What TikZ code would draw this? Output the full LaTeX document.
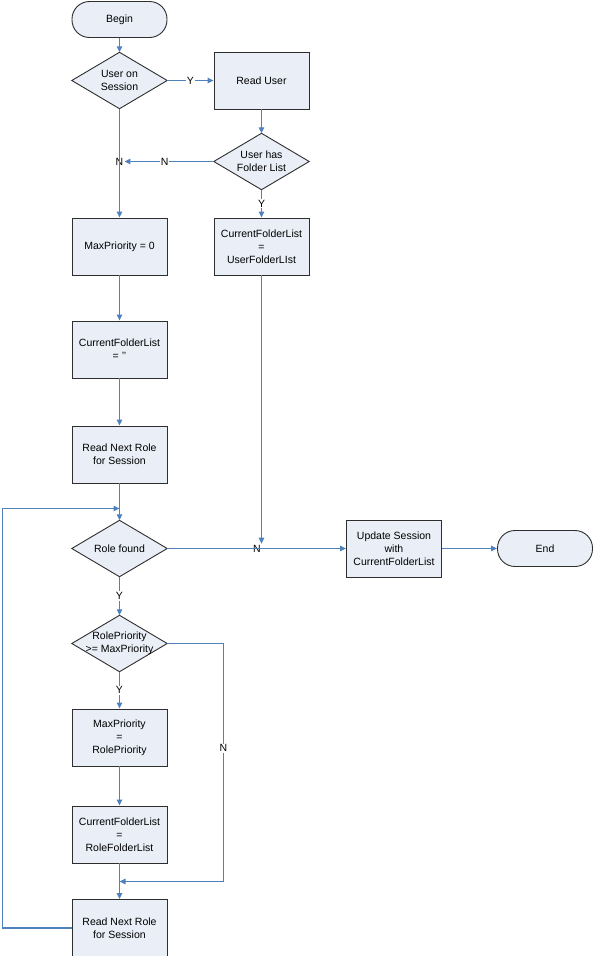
\documentclass[tikz,border=0pt]{standalone}
\usepackage{fontspec}
\setmainfont{Liberation Sans}
\usetikzlibrary{arrows.meta,backgrounds}
\definecolor{boxfill}{HTML}{E9EEF7}
\definecolor{flow}{HTML}{4F81BD}
\definecolor{edgecol}{HTML}{2E2E2E}
\begin{document}
\begin{tikzpicture}[x=1pt,y=-1pt,
  font=\fontsize{10.5}{13}\selectfont,
  proc/.style={draw=edgecol, fill=boxfill, line width=0.9pt, minimum width=95pt, minimum height=57pt, align=center, inner sep=1pt},
  term/.style={proc, rounded corners=17.5pt, minimum height=36pt},
  dec/.style={minimum width=95pt, minimum height=56pt, align=center, inner sep=0pt},
  flowline/.style={draw=flow, line width=1.1pt},
  arr/.style={flowline, -{Triangle[length=6pt,width=5.5pt]}},
  lab/.style={fill=white, inner sep=1pt},
  jn/.style={inner sep=1pt}]
\useasboundingbox (0,0) rectangle (593,956);

\node[term] (begin) at (119.5,19.5) {Begin};
\node[dec] (uos) at (119.5,80.5) {User on\\Session};
\node[proc] (ru) at (261.5,80.5) {Read User};
\node[dec] (uhf) at (261.5,161.5) {User has\\Folder List};
\node[jn] (nj) at (119.5,161.5) {N};
\node[proc] (cfu) at (261.5,246.5) {CurrentFolderList\\=\\UserFolderLIst};
\node[proc] (mp0) at (119.5,246.5) {MaxPriority = 0};
\node[proc] (cfe) at (119.5,349.5) {CurrentFolderList\\= \symbol{39}\symbol{39}};
\node[proc] (rnr1) at (119.5,454.5) {Read Next Role\\for Session};
\node[dec] (rf) at (119.5,548.5) {Role found};
\node[jn] (nj2) at (257,548.5) {N};
\node[proc] (us) at (394,548.5) {Update Session\\with\\CurrentFolderList};
\node[term] (end) at (545,548.5) {End};
\node[dec] (rp) at (119.5,643.5) {RolePriority\\>= MaxPriority};
\node[proc] (mpr) at (119.5,737.5) {MaxPriority\\=\\RolePriority};
\node[proc] (cfr) at (119.5,834.5) {CurrentFolderList\\=\\RoleFolderList};
\node[proc] (rnr2) at (119.5,928) {Read Next Role\\for Session};

\coordinate (loopin) at (119.5,508.5);
\coordinate (nin) at (119.5,881.5);

\begin{scope}[on background layer]
  \foreach \d in {uos,uhf,rf,rp}
    \draw[draw=edgecol, fill=boxfill, line width=0.9pt] (\d.north) -- (\d.east) -- (\d.south) -- (\d.west) -- cycle;
\end{scope}

% connectors
\draw[arr] (begin) -- (uos);
\draw[arr] (uos.east) -- node[lab] {Y} (ru.west);
\draw[arr] (ru) -- (uhf.north);
\draw[arr] (uhf.west) -- node[lab, pos=0.55] {N} (nj.east);
\draw[arr] (uos.south) -- (mp0.north);
\draw[arr] (uhf.south) -- node[lab] {Y} (cfu.north);
\draw[arr] (mp0) -- (cfe);
\draw[arr] (cfe) -- (rnr1);
\draw[arr] (rnr1) -- (rf.north);
\draw[arr] (cfu.south) -- (cfu.south |- nj2.north east);
\draw[arr] (rf.east) -- (us.west);
\draw[arr] (us) -- (end);
\draw[arr] (rf.south) -- node[lab] {Y} (rp.north);
\draw[arr] (rp.south) -- node[lab] {Y} (mpr.north);
\draw[arr] (mpr) -- (cfr);
\draw[arr] (cfr) -- (rnr2);
\draw[arr] (rp.east) -| node[lab, pos=0.72] {N} (223.5,881.5) -- (nin);
\draw[arr] (rnr2.west) -| (2.5,508.5) -- (loopin);
\end{tikzpicture}
\end{document}
